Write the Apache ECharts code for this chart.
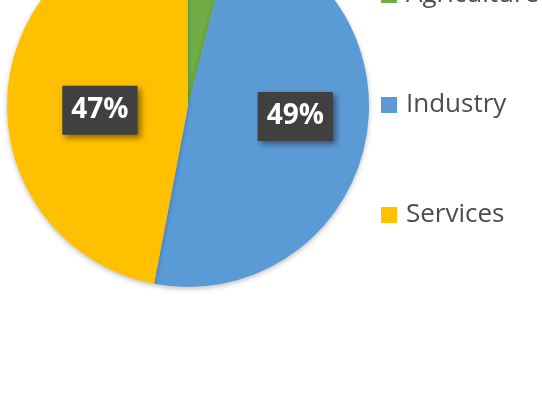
<!DOCTYPE html>
<html>
<head>
<meta charset="utf-8">
<script src="https://cdn.jsdelivr.net/npm/echarts@6/dist/echarts.min.js"></script>
<style>
html,body{margin:0;padding:0;background:#fff;}
#chart{width:542px;height:420px;}
</style>
</head>
<body>
<div id="chart"></div>
<script>
var categories = ['Agriculture', 'Industry', 'Services'];
var values = [4, 49, 47];
var colors = ['#70AD47', '#5B9BD5', '#FFC000'];
var showLabel = [false, true, true];

var labelShift = [[0, 0], [16, -10], [5, 13]];

var chart = echarts.init(document.getElementById('chart'));
var data = categories.map(function (c, i) {
  return {
    name: c,
    value: values[i],
    itemStyle: { color: colors[i] },
    label: { show: showLabel[i] }
  };
});
chart.setOption({
  backgroundColor: '#ffffff',
  animation: false,
  legend: {
    orient: 'vertical',
    left: 381,
    top: -20,
    padding: 0,
    itemWidth: 16,
    itemHeight: 16,
    itemGap: 80,
    icon: 'rect',
    textStyle: {
      fontFamily: 'Open Sans',
      fontSize: 26,
      lineHeight: 30,
      color: '#4d4d4d',
      padding: [0, 0, 0, 4]
    },
    data: categories
  },
  series: [{
    type: 'pie',
    center: [188, 106],
    radius: 181,
    startAngle: 90,
    clockwise: true,
    data: data,
    itemStyle: {
      borderWidth: 0,
      shadowBlur: 5,
      shadowColor: 'rgba(0,0,0,0.25)',
      shadowOffsetY: 2
    },
    emphasis: { disabled: true },
    label: {
      position: 'inside',
      formatter: function (p) { return p.value + '%'; },
      color: '#ffffff',
      fontFamily: 'Open Sans',
      fontWeight: 'bold',
      fontSize: 28,
      lineHeight: 38,
      backgroundColor: '#404040',
      padding: [6, 9, 5, 9],
      shadowBlur: 6,
      shadowColor: 'rgba(0,0,0,0.45)',
      shadowOffsetX: 3,
      shadowOffsetY: 3
    },
    labelLine: { show: false },
    labelLayout: function (params) {
      var s = labelShift[params.dataIndex];
      return { dx: s[0], dy: s[1] };
    }
  }]
});
</script>
</body>
</html>
